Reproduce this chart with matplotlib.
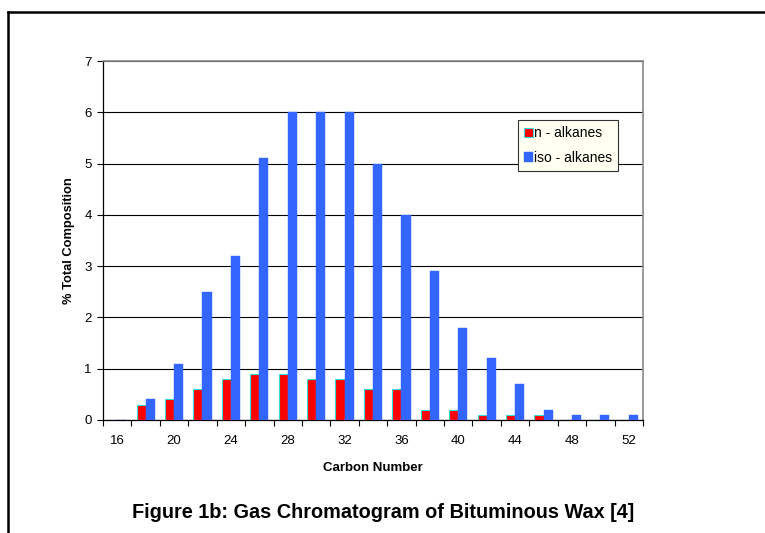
import numpy as np
import matplotlib
matplotlib.use('Agg')
import matplotlib.pyplot as plt
from matplotlib.lines import Line2D

plt.rcParams['font.family'] = ['Liberation Sans', 'DejaVu Sans']

carbon = [16, 18, 20, 22, 24, 26, 28, 30, 32, 34, 36, 38, 40, 42, 44, 46, 48, 50, 52]
n_alkanes = [0, 0.3, 0.4, 0.6, 0.8, 0.9, 0.9, 0.8, 0.8, 0.6, 0.6, 0.2, 0.2, 0.1, 0.1, 0.1, 0, 0, 0]
iso_alkanes = [0, 0.4, 1.1, 2.5, 3.2, 5.1, 6.0, 6.0, 6.0, 5.0, 4.0, 2.9, 1.8, 1.2, 0.7, 0.2, 0.1, 0.1, 0.1]

fig = plt.figure(figsize=(7.65, 5.33), dpi=100)
ax = fig.add_axes([103 / 765, 113 / 533, 540 / 765, 359 / 533])

x = np.arange(len(carbon))
w = 0.32
ax.bar(x - w / 2, n_alkanes, w, color='#FF0000', edgecolor='#33DDDD', linewidth=0.8,
       label='n - alkanes', zorder=3)
ax.bar(x + w / 2, iso_alkanes, w, color='#3366FF', edgecolor='#3366FF', linewidth=0.3,
       label='iso - alkanes', zorder=3)

ax.set_xlim(-0.5, len(carbon) - 0.5)
ax.set_ylim(0, 7)
ax.set_yticks(range(8))
ax.yaxis.grid(True, color='black', linewidth=0.8, zorder=0)

ax.set_xticks(x[::2])
ax.set_xticklabels([str(c) for c in carbon[::2]])
ax.set_xticks(np.arange(-0.5, len(carbon), 1), minor=True)
ax.tick_params(axis='x', which='major', length=0, pad=10.5, labelsize=9.5)
ax.tick_params(axis='x', which='minor', length=4, width=0.8, direction='out')
ax.tick_params(axis='y', length=4, width=0.8, labelsize=9.5, pad=4)

for s in ['top', 'right']:
    ax.spines[s].set_color('#888888')
    ax.spines[s].set_linewidth(1.2)
for s in ['left', 'bottom']:
    ax.spines[s].set_color('black')
    ax.spines[s].set_linewidth(0.9)

ax.set_xlabel('Carbon Number', fontsize=9.5, fontweight='bold', labelpad=11)
ax.set_ylabel('% Total Composition', fontsize=9.3, fontweight='bold', labelpad=7)

leg = ax.legend(loc='upper left', bbox_to_anchor=(0.7685, 0.8357), fontsize=10,
                frameon=True, fancybox=False, framealpha=1, borderpad=0.45,
                handlelength=0.6, handleheight=0.7, handletextpad=0.1,
                labelspacing=0.75, borderaxespad=0)
leg.get_frame().set_facecolor('#FFFFF2')
leg.get_frame().set_edgecolor('#333333')
leg.get_frame().set_linewidth(0.8)

fig.text(383 / 765, 1 - 513 / 533, 'Figure 1b: Gas Chromatogram of Bituminous Wax [4]',
         ha='center', va='center', fontsize=14.3, fontweight='bold')

# outer frame (top and left edges)
fig.add_artist(Line2D([8 / 765, 1], [1 - 12 / 533, 1 - 12 / 533], color='black', linewidth=1.8,
                      transform=fig.transFigure))
fig.add_artist(Line2D([8 / 765, 8 / 765], [0, 1 - 12 / 533], color='black', linewidth=1.8,
                      transform=fig.transFigure))

fig.savefig('out.png', dpi=100)
